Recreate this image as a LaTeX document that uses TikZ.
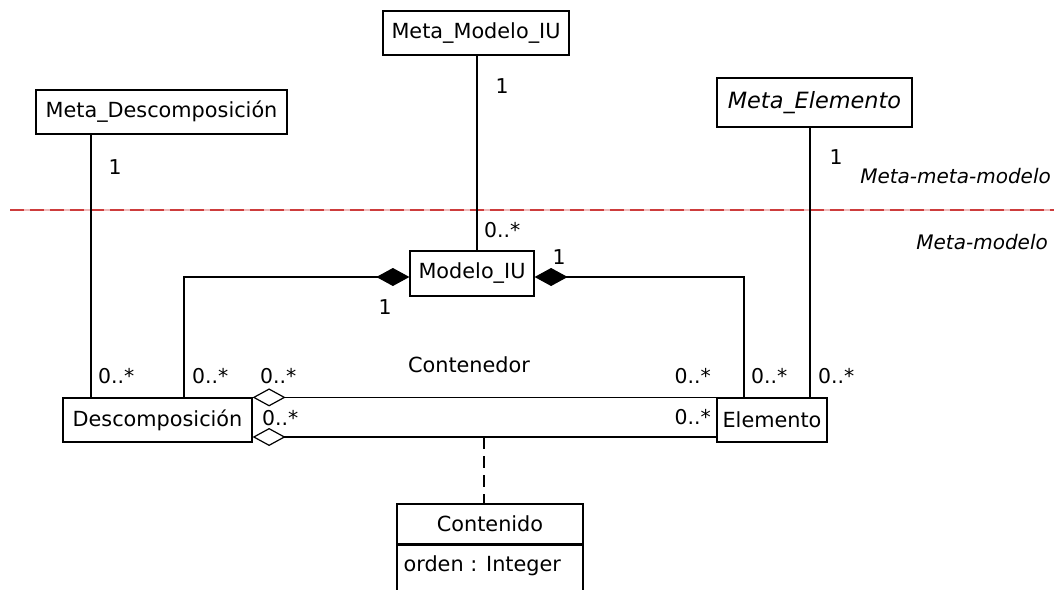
\documentclass[tikz,border=0pt]{standalone}
\usepackage{fontspec}
\setmainfont{DejaVu Sans}
\usetikzlibrary{arrows.meta}
\definecolor{layerred}{RGB}{205,60,60}
\definecolor{layerpink}{RGB}{240,185,185}
\tikzset{
  classbox/.style={draw, line width=1.2pt, rectangle, inner sep=0pt, fill=white,
    font=\fontsize{20.8}{24}\selectfont},
  link/.style={line width=1.2pt},
  mult/.style={inner sep=0pt, font=\fontsize{20.4}{24}\selectfont},
  layer/.style={inner sep=0pt, font=\fontsize{20}{24}\selectfont\itshape},
  compo/.style={-{Diamond[length=33pt,width=18pt]}},
  aggr/.style={{Diamond[open,length=33pt,width=18pt]}-},
}
\begin{document}
\begin{tikzpicture}[x=1pt,y=-1pt]
\clip (0,0) rectangle (1054,589);
\fill[white] (0,0) rectangle (1054,589);

% layer separator
\draw[layerpink, line width=1.5pt] (10,210) -- (1054,210);
\draw[layerred, line width=1.5pt, dash pattern=on 14pt off 6pt] (10,210) -- (1054,210);
\node[layer, anchor=east] (lmm) at (1051,176) {Meta-meta-modelo};
\node[layer, anchor=east] (lm) at (1048,242) {Meta-modelo};

% classes
\node[classbox, minimum width=186pt, minimum height=44pt] (mmiu) at (476,33) {Meta\_Modelo\_IU};
\node[classbox, minimum width=251pt, minimum height=44pt] (mdesc) at (161.5,112) {Meta\_Descomposición};
\node[classbox, minimum width=195pt, minimum height=49pt, font=\fontsize{22.4}{26}\selectfont\itshape] (melem) at (814.5,102.5) {Meta\_Elemento};
\node[classbox, minimum width=124pt, minimum height=45pt] (miu) at (472,273.5) {Modelo\_IU};
\node[classbox, minimum width=189pt, minimum height=44pt] (desc) at (157.5,420) {Descomposición};
\node[classbox, minimum width=110pt, minimum height=44pt] (elem) at (772,420) {Elemento};
\node[classbox, minimum width=186pt, minimum height=40pt] (cont) at (490,524) {Contenido};
\node[classbox, fill=none, minimum width=186pt, minimum height=70pt, anchor=north] (contattr) at (cont.south) {};
\node[classbox, draw=none, fill=none, anchor=west] (attr) at (403,566) {orden : Integer};

% connector positions
\coordinate (xm) at (477,0);
\coordinate (xd) at (91,0);
\coordinate (xe) at (810,0);
\coordinate (xcl) at (184,0);
\coordinate (xcr) at (744,0);
\coordinate (yc) at (0,277);
\coordinate (yb) at (0,437);
\coordinate (ac) at (484,437);

% instance-of links
\draw[link] (mmiu.south -| xm) -- (miu.north -| xm);
\draw[link] (mdesc.south -| xd) -- (desc.north -| xd);
\draw[link] (melem.south -| xe) -- (elem.north -| xe);

% compositions
\draw[link, compo] (desc.north -| xcl) -- (xcl |- yc) -- (miu.west |- yc);
\draw[link, compo] (elem.north -| xcr) -- (xcr |- yc) -- (miu.east |- yc);

% aggregations
\draw[link, aggr] (desc.north east) -- (elem.north west);
\draw[link, aggr] (desc.east |- yb) -- (elem.west |- yb);

% association class
\draw[line width=1.2pt, dash pattern=on 12pt off 7pt] (ac) -- (ac |- cont.north);

% multiplicities
\node[mult] (m1) at (502,86) {1};
\node[mult, anchor=west] (m2) at (484,230) {0..*};
\node[mult] (m3) at (115,167) {1};
\node[mult, anchor=west] (m4) at (98,376) {0..*};
\node[mult] (m5) at (836,157) {1};
\node[mult, anchor=west] (m6) at (818,376) {0..*};
\node[mult] (m7) at (385,307) {1};
\node[mult] (m8) at (559,257) {1};
\node[mult, anchor=west] (m9) at (192,376) {0..*};
\node[mult, anchor=west] (m10) at (260,376) {0..*};
\node[mult, anchor=west] (m11) at (262,418) {0..*};
\node[mult, anchor=east] (m12) at (711,376) {0..*};
\node[mult, anchor=east] (m13) at (711,417) {0..*};
\node[mult, anchor=west] (m14) at (751,376) {0..*};
\node[classbox, draw=none, fill=none] (cname) at (469,365) {Contenedor};
\end{tikzpicture}
\end{document}
